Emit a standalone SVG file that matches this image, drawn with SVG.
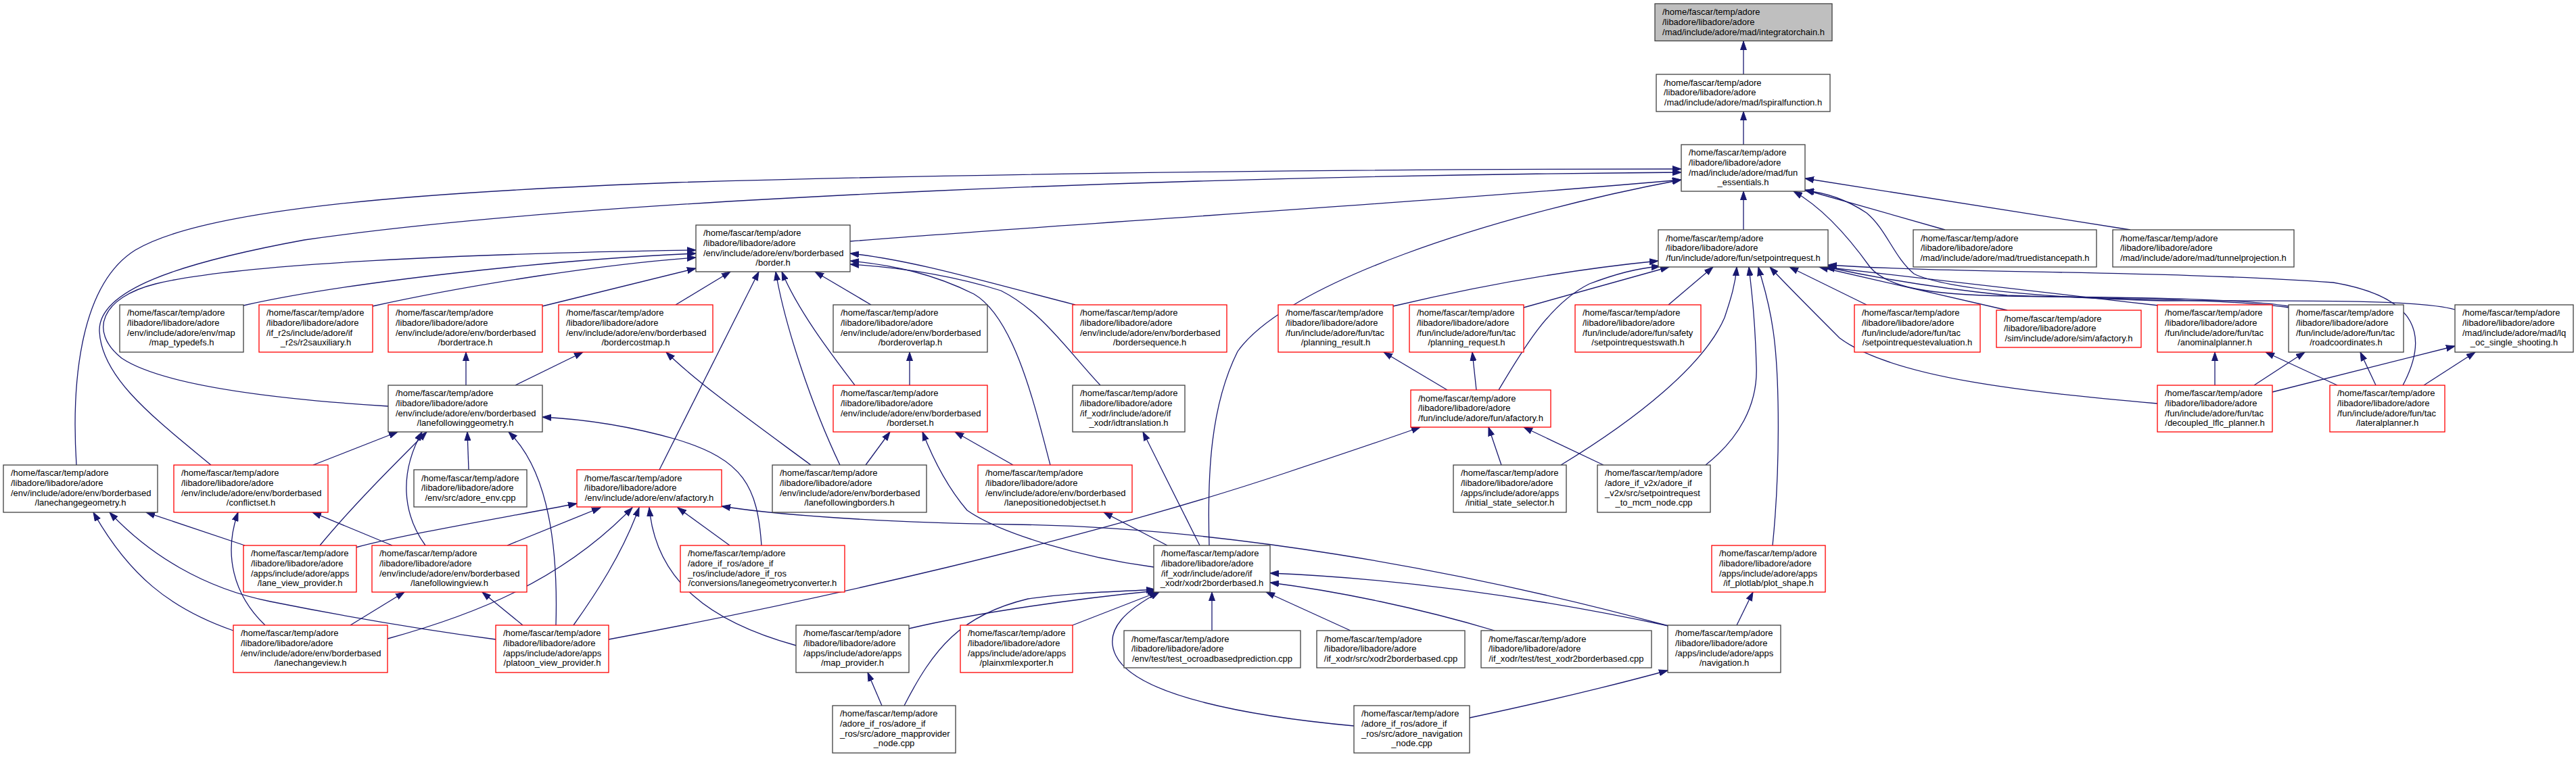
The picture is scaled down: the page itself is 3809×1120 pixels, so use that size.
<svg xmlns="http://www.w3.org/2000/svg" width="3809" height="1120" viewBox="0 0 3809 1120">
<defs>
<marker id="a" markerUnits="userSpaceOnUse" markerWidth="14" markerHeight="10" refX="13" refY="5" orient="auto" viewBox="0 0 14 10"><path d="M0,0.5 L13,5 L0,9.5 z" fill="#191970" stroke="#191970" stroke-width="1"/></marker>
<style>
.k{fill:#fff;stroke:#404040;stroke-width:1.3}
.r{fill:#fff;stroke:#ff0000;stroke-width:1.3}
.g{fill:#bfbfbf;stroke:#404040;stroke-width:1.3}
text{font-family:"Liberation Sans",Arial,sans-serif;font-size:13px;fill:#000}
.m{text-anchor:middle}
#edges path{fill:none;stroke:#191970;stroke-width:1.3;marker-end:url(#a)}
</style>
</defs>
<rect width="3809" height="1120" fill="#fff"/>
<g id="edges">
<path d="M2578,110 L2578,61"/>
<path d="M2578,214 L2578,165"/>
<path d="M2578,340 L2578,283"/>
<path d="M3150,340 L2669,264"/>
<path d="M2876,340 L2669,281"/>
<path d="M1257,357 C1600,330 2100,300 2486,266"/>
<path d="M113,688 C105,560 120,420 200,370 C300,310 600,285 1000,270 C1500,255 2100,250 2486,250"/>
<path d="M312,688 C230,620 150,560 147,490 C145,430 260,390 450,355 C900,290 1800,260 2486,255"/>
<path d="M574,601 C400,590 240,570 180,530 C130,490 150,440 230,420 C350,390 700,375 1029,370"/>
<path d="M360,452 C500,420 800,385 1029,375"/>
<path d="M551,453 C700,420 900,390 1029,381"/>
<path d="M802,453 L1029,397"/>
<path d="M999,451 L1080,402"/>
<path d="M975,695 L1122,402"/>
<path d="M1242,688 C1200,600 1160,480 1147,402"/>
<path d="M1264,570 C1230,525 1180,460 1156,402"/>
<path d="M1288,451 L1205,402"/>
<path d="M1590,451 C1450,415 1350,385 1257,375"/>
<path d="M1553,688 C1530,600 1500,470 1440,435 C1380,405 1320,392 1257,386"/>
<path d="M1627,570 C1580,520 1540,460 1480,430 C1400,405 1320,395 1257,391"/>
<path d="M689,570 L689,521"/>
<path d="M762,570 L862,521"/>
<path d="M1199,688 C1100,615 1030,565 985,521"/>
<path d="M1345,570 L1345,521"/>
<path d="M1280,688 L1316,639"/>
<path d="M1498,688 L1412,639"/>
<path d="M1706,839 C1600,825 1480,790 1430,755 C1400,720 1380,680 1364,639"/>
<path d="M1774,807 L1690,639"/>
<path d="M1726,807 L1632,758"/>
<path d="M1788,807 C1785,700 1790,600 1830,520 C1900,420 2200,320 2486,266"/>
<path d="M2968,459 L2690,395"/>
<path d="M2760,451 L2646,395"/>
<path d="M2467,451 L2533,395"/>
<path d="M2253,455 L2468,395"/>
<path d="M2060,453 C2200,420 2330,398 2452,386"/>
<path d="M2216,577 C2250,520 2290,450 2350,420 C2390,405 2420,397 2455,394"/>
<path d="M2308,688 C2420,620 2520,540 2550,470 C2560,440 2566,420 2568,395"/>
<path d="M2522,688 C2570,650 2600,600 2597,540 C2595,470 2590,430 2586,395"/>
<path d="M2621,807 C2632,700 2632,560 2622,490 C2615,440 2605,415 2600,395"/>
<path d="M3190,597 C3000,580 2800,560 2720,500 C2680,460 2640,420 2617,395"/>
<path d="M3553,570 C3590,500 3580,440 3450,418 C3200,400 2900,405 2703,392"/>
<path d="M3192,452 C3000,430 2800,408 2697,395"/>
<path d="M3384,455 C3300,442 3100,442 2968,437 C2850,425 2760,408 2700,395"/>
<path d="M3384,453 C3300,440 3100,440 2968,438 C2850,436 2790,425 2765,395 C2740,360 2700,310 2652,283"/>
<path d="M3630,458 C3580,443 3400,445 3200,445 C3000,440 2870,425 2830,405 C2800,380 2790,340 2760,315 C2730,295 2700,285 2669,282"/>
<path d="M3275,570 L3275,521"/>
<path d="M3333,570 L3408,521"/>
<path d="M3360,580 L3630,512"/>
<path d="M3456,570 L3350,521"/>
<path d="M3513,570 L3490,521"/>
<path d="M3584,570 L3660,521"/>
<path d="M693,695 L691,639"/>
<path d="M822,925 C825,820 815,700 752,639"/>
<path d="M1126,807 C1120,720 1100,680 1000,650 C930,630 860,620 802,617"/>
<path d="M463,688 L588,639"/>
<path d="M473,807 C520,750 580,690 631,639"/>
<path d="M629,807 C595,760 590,700 624,639"/>
<path d="M392,925 C345,880 330,820 352,758"/>
<path d="M580,807 L462,758"/>
<path d="M345,933 C250,900 190,850 138,758"/>
<path d="M733,946 C650,935 550,920 400,890 C300,870 220,820 162,758"/>
<path d="M362,807 L216,758"/>
<path d="M526,810 C600,790 750,765 853,745"/>
<path d="M750,807 L888,751"/>
<path d="M573,945 C700,910 830,860 935,751"/>
<path d="M848,925 C880,880 920,820 945,751"/>
<path d="M1177,955 C1050,920 970,860 960,751"/>
<path d="M1079,807 L1002,751"/>
<path d="M2467,926 C2150,840 1800,780 1500,776 C1300,773 1150,762 1067,749"/>
<path d="M773,925 L713,876"/>
<path d="M518,925 L598,876"/>
<path d="M900,946 C1200,890 1600,800 1900,700 C1990,670 2050,650 2100,632"/>
<path d="M2140,577 L2046,521"/>
<path d="M2183,577 L2177,521"/>
<path d="M2220,688 L2201,632"/>
<path d="M2371,688 L2253,632"/>
<path d="M2568,925 L2592,876"/>
<path d="M2173,1062 C2300,1035 2400,1010 2466,992"/>
<path d="M1304,1044 L1283,995"/>
<path d="M1337,1044 C1380,960 1420,910 1520,886 C1600,875 1650,876 1708,872"/>
<path d="M1344,930 C1450,905 1600,885 1710,874"/>
<path d="M1586,925 L1712,876"/>
<path d="M2002,1074 C1850,1060 1680,1030 1650,970 C1630,930 1670,900 1714,876"/>
<path d="M1792,933 L1792,876"/>
<path d="M1997,933 L1872,876"/>
<path d="M2210,933 C2100,900 1980,875 1878,862"/>
<path d="M2467,926 C2250,880 2050,855 1878,848"/>
</g>
<g id="n_integratorchain"><rect class="g" x="2447" y="5.5" width="262" height="55"/><text x="2458" y="22">/home/fascar/temp/adore</text><text x="2458" y="36.8">/libadore/libadore/adore</text><text class="m" x="2578" y="51.5">/mad/include/adore/mad/integratorchain.h</text></g>
<g id="n_lspiralfunction"><rect class="k" x="2449" y="110" width="257" height="55"/><text x="2460" y="126.5">/home/fascar/temp/adore</text><text x="2460" y="141.3">/libadore/libadore/adore</text><text class="m" x="2577.5" y="156">/mad/include/adore/mad/lspiralfunction.h</text></g>
<g id="n_fun_essentials"><rect class="k" x="2486" y="214" width="183" height="69"/><text x="2497" y="230">/home/fascar/temp/adore</text><text x="2497" y="245">/libadore/libadore/adore</text><text x="2497" y="259.5">/mad/include/adore/mad/fun</text><text class="m" x="2577.5" y="274">_essentials.h</text></g>
<g id="n_setpointrequest"><rect class="k" x="2452" y="340" width="251" height="55"/><text x="2463" y="356.5">/home/fascar/temp/adore</text><text x="2463" y="371.3">/libadore/libadore/adore</text><text class="m" x="2577.5" y="386">/fun/include/adore/fun/setpointrequest.h</text></g>
<g id="n_truedistancepath"><rect class="k" x="2829" y="340" width="271" height="55"/><text x="2840" y="356.5">/home/fascar/temp/adore</text><text x="2840" y="371.3">/libadore/libadore/adore</text><text class="m" x="2964.5" y="386">/mad/include/adore/mad/truedistancepath.h</text></g>
<g id="n_tunnelprojection"><rect class="k" x="3124" y="340" width="268" height="55"/><text x="3135" y="356.5">/home/fascar/temp/adore</text><text x="3135" y="371.3">/libadore/libadore/adore</text><text class="m" x="3258" y="386">/mad/include/adore/mad/tunnelprojection.h</text></g>
<g id="n_border"><rect class="k" x="1029" y="333" width="228" height="69"/><text x="1040" y="349">/home/fascar/temp/adore</text><text x="1040" y="364">/libadore/libadore/adore</text><text x="1040" y="378.5">/env/include/adore/env/borderbased</text><text class="m" x="1143" y="393">/border.h</text></g>
<g id="n_map_typedefs"><rect class="k" x="177" y="451" width="183" height="70"/><text x="188" y="467">/home/fascar/temp/adore</text><text x="188" y="482">/libadore/libadore/adore</text><text x="188" y="496.5">/env/include/adore/env/map</text><text class="m" x="268.5" y="511">/map_typedefs.h</text></g>
<g id="n_r2sauxiliary"><rect class="r" x="383" y="451" width="168" height="70"/><text x="394" y="467">/home/fascar/temp/adore</text><text x="394" y="482">/libadore/libadore/adore</text><text x="394" y="496.5">/if_r2s/include/adore/if</text><text class="m" x="467" y="511">_r2s/r2sauxiliary.h</text></g>
<g id="n_bordertrace"><rect class="r" x="574" y="451" width="228" height="70"/><text x="585" y="467">/home/fascar/temp/adore</text><text x="585" y="482">/libadore/libadore/adore</text><text x="585" y="496.5">/env/include/adore/env/borderbased</text><text class="m" x="688" y="511">/bordertrace.h</text></g>
<g id="n_bordercostmap"><rect class="r" x="826" y="451" width="228" height="70"/><text x="837" y="467">/home/fascar/temp/adore</text><text x="837" y="482">/libadore/libadore/adore</text><text x="837" y="496.5">/env/include/adore/env/borderbased</text><text class="m" x="940" y="511">/bordercostmap.h</text></g>
<g id="n_borderoverlap"><rect class="k" x="1232" y="451" width="228" height="70"/><text x="1243" y="467">/home/fascar/temp/adore</text><text x="1243" y="482">/libadore/libadore/adore</text><text x="1243" y="496.5">/env/include/adore/env/borderbased</text><text class="m" x="1346" y="511">/borderoverlap.h</text></g>
<g id="n_bordersequence"><rect class="r" x="1586" y="451" width="228" height="70"/><text x="1597" y="467">/home/fascar/temp/adore</text><text x="1597" y="482">/libadore/libadore/adore</text><text x="1597" y="496.5">/env/include/adore/env/borderbased</text><text class="m" x="1700" y="511">/bordersequence.h</text></g>
<g id="n_planning_result"><rect class="r" x="1890" y="451" width="170" height="70"/><text x="1901" y="467">/home/fascar/temp/adore</text><text x="1901" y="482">/libadore/libadore/adore</text><text x="1901" y="496.5">/fun/include/adore/fun/tac</text><text class="m" x="1975" y="511">/planning_result.h</text></g>
<g id="n_planning_request"><rect class="r" x="2084" y="451" width="169" height="70"/><text x="2095" y="467">/home/fascar/temp/adore</text><text x="2095" y="482">/libadore/libadore/adore</text><text x="2095" y="496.5">/fun/include/adore/fun/tac</text><text class="m" x="2168.5" y="511">/planning_request.h</text></g>
<g id="n_setpointrequestswath"><rect class="r" x="2329" y="451" width="186" height="70"/><text x="2340" y="467">/home/fascar/temp/adore</text><text x="2340" y="482">/libadore/libadore/adore</text><text x="2340" y="496.5">/fun/include/adore/fun/safety</text><text class="m" x="2422" y="511">/setpointrequestswath.h</text></g>
<g id="n_setpointrequestevaluation"><rect class="r" x="2742" y="451" width="186" height="70"/><text x="2753" y="467">/home/fascar/temp/adore</text><text x="2753" y="482">/libadore/libadore/adore</text><text x="2753" y="496.5">/fun/include/adore/fun/tac</text><text class="m" x="2835" y="511">/setpointrequestevaluation.h</text></g>
<g id="n_sim_afactory"><rect class="r" x="2952" y="459" width="214" height="55"/><text x="2963" y="475.5">/home/fascar/temp/adore</text><text x="2963" y="490.3">/libadore/libadore/adore</text><text class="m" x="3059" y="505">/sim/include/adore/sim/afactory.h</text></g>
<g id="n_anominalplanner"><rect class="r" x="3190" y="451" width="170" height="70"/><text x="3201" y="467">/home/fascar/temp/adore</text><text x="3201" y="482">/libadore/libadore/adore</text><text x="3201" y="496.5">/fun/include/adore/fun/tac</text><text class="m" x="3275" y="511">/anominalplanner.h</text></g>
<g id="n_roadcoordinates"><rect class="k" x="3384" y="451" width="170" height="70"/><text x="3395" y="467">/home/fascar/temp/adore</text><text x="3395" y="482">/libadore/libadore/adore</text><text x="3395" y="496.5">/fun/include/adore/fun/tac</text><text class="m" x="3469" y="511">/roadcoordinates.h</text></g>
<g id="n_lq_oc"><rect class="k" x="3630" y="451" width="175" height="70"/><text x="3641" y="467">/home/fascar/temp/adore</text><text x="3641" y="482">/libadore/libadore/adore</text><text x="3641" y="496.5">/mad/include/adore/mad/lq</text><text class="m" x="3717.5" y="511">_oc_single_shooting.h</text></g>
<g id="n_lanefollowinggeometry"><rect class="k" x="574" y="570" width="228" height="69"/><text x="585" y="586">/home/fascar/temp/adore</text><text x="585" y="601">/libadore/libadore/adore</text><text x="585" y="615.5">/env/include/adore/env/borderbased</text><text class="m" x="688" y="630">/lanefollowinggeometry.h</text></g>
<g id="n_borderset"><rect class="r" x="1232" y="570" width="228" height="69"/><text x="1243" y="586">/home/fascar/temp/adore</text><text x="1243" y="601">/libadore/libadore/adore</text><text x="1243" y="615.5">/env/include/adore/env/borderbased</text><text class="m" x="1346" y="630">/borderset.h</text></g>
<g id="n_idtranslation"><rect class="k" x="1586" y="570" width="166" height="69"/><text x="1597" y="586">/home/fascar/temp/adore</text><text x="1597" y="601">/libadore/libadore/adore</text><text x="1597" y="615.5">/if_xodr/include/adore/if</text><text class="m" x="1669" y="630">_xodr/idtranslation.h</text></g>
<g id="n_fun_afactory"><rect class="r" x="2086" y="577" width="207" height="55"/><text x="2097" y="593.5">/home/fascar/temp/adore</text><text x="2097" y="608.3">/libadore/libadore/adore</text><text class="m" x="2189.5" y="623">/fun/include/adore/fun/afactory.h</text></g>
<g id="n_decoupled_lflc_planner"><rect class="r" x="3190" y="570" width="170" height="69"/><text x="3201" y="586">/home/fascar/temp/adore</text><text x="3201" y="601">/libadore/libadore/adore</text><text x="3201" y="615.5">/fun/include/adore/fun/tac</text><text class="m" x="3275" y="630">/decoupled_lflc_planner.h</text></g>
<g id="n_lateralplanner"><rect class="r" x="3445" y="570" width="170" height="69"/><text x="3456" y="586">/home/fascar/temp/adore</text><text x="3456" y="601">/libadore/libadore/adore</text><text x="3456" y="615.5">/fun/include/adore/fun/tac</text><text class="m" x="3530" y="630">/lateralplanner.h</text></g>
<g id="n_lanechangegeometry"><rect class="k" x="5" y="688" width="228" height="70"/><text x="16" y="704">/home/fascar/temp/adore</text><text x="16" y="719">/libadore/libadore/adore</text><text x="16" y="733.5">/env/include/adore/env/borderbased</text><text class="m" x="119" y="748">/lanechangegeometry.h</text></g>
<g id="n_conflictset"><rect class="r" x="257" y="688" width="228" height="70"/><text x="268" y="704">/home/fascar/temp/adore</text><text x="268" y="719">/libadore/libadore/adore</text><text x="268" y="733.5">/env/include/adore/env/borderbased</text><text class="m" x="371" y="748">/conflictset.h</text></g>
<g id="n_adore_env_cpp"><rect class="k" x="612" y="695" width="167" height="55"/><text x="623" y="711.5">/home/fascar/temp/adore</text><text x="623" y="726.3">/libadore/libadore/adore</text><text class="m" x="695.5" y="741">/env/src/adore_env.cpp</text></g>
<g id="n_env_afactory"><rect class="r" x="853" y="695" width="214" height="55"/><text x="864" y="711.5">/home/fascar/temp/adore</text><text x="864" y="726.3">/libadore/libadore/adore</text><text class="m" x="960" y="741">/env/include/adore/env/afactory.h</text></g>
<g id="n_lanefollowingborders"><rect class="k" x="1142" y="688" width="228" height="70"/><text x="1153" y="704">/home/fascar/temp/adore</text><text x="1153" y="719">/libadore/libadore/adore</text><text x="1153" y="733.5">/env/include/adore/env/borderbased</text><text class="m" x="1256" y="748">/lanefollowingborders.h</text></g>
<g id="n_lanepositionedobjectset"><rect class="r" x="1446" y="688" width="228" height="70"/><text x="1457" y="704">/home/fascar/temp/adore</text><text x="1457" y="719">/libadore/libadore/adore</text><text x="1457" y="733.5">/env/include/adore/env/borderbased</text><text class="m" x="1560" y="748">/lanepositionedobjectset.h</text></g>
<g id="n_initial_state_selector"><rect class="k" x="2149" y="688" width="167" height="70"/><text x="2160" y="704">/home/fascar/temp/adore</text><text x="2160" y="719">/libadore/libadore/adore</text><text x="2160" y="733.5">/apps/include/adore/apps</text><text class="m" x="2232.5" y="748">/initial_state_selector.h</text></g>
<g id="n_setpointrequest_to_mcm"><rect class="k" x="2362" y="688" width="167" height="70"/><text x="2373" y="704">/home/fascar/temp/adore</text><text x="2373" y="719">/adore_if_v2x/adore_if</text><text x="2373" y="733.5">_v2x/src/setpointrequest</text><text class="m" x="2445.5" y="748">_to_mcm_node.cpp</text></g>
<g id="n_lane_view_provider"><rect class="r" x="360" y="807" width="167" height="69"/><text x="371" y="823">/home/fascar/temp/adore</text><text x="371" y="838">/libadore/libadore/adore</text><text x="371" y="852.5">/apps/include/adore/apps</text><text class="m" x="443.5" y="867">/lane_view_provider.h</text></g>
<g id="n_lanefollowingview"><rect class="r" x="550" y="807" width="229" height="69"/><text x="561" y="823">/home/fascar/temp/adore</text><text x="561" y="838">/libadore/libadore/adore</text><text x="561" y="852.5">/env/include/adore/env/borderbased</text><text class="m" x="664.5" y="867">/lanefollowingview.h</text></g>
<g id="n_lanegeometryconverter"><rect class="r" x="1006" y="807" width="243" height="69"/><text x="1017" y="823">/home/fascar/temp/adore</text><text x="1017" y="838">/adore_if_ros/adore_if</text><text x="1017" y="852.5">_ros/include/adore_if_ros</text><text class="m" x="1127.5" y="867">/conversions/lanegeometryconverter.h</text></g>
<g id="n_xodr2borderbased"><rect class="k" x="1706" y="807" width="172" height="69"/><text x="1717" y="823">/home/fascar/temp/adore</text><text x="1717" y="838">/libadore/libadore/adore</text><text x="1717" y="852.5">/if_xodr/include/adore/if</text><text class="m" x="1792" y="867">_xodr/xodr2borderbased.h</text></g>
<g id="n_plot_shape"><rect class="r" x="2531" y="807" width="168" height="69"/><text x="2542" y="823">/home/fascar/temp/adore</text><text x="2542" y="838">/libadore/libadore/adore</text><text x="2542" y="852.5">/apps/include/adore/apps</text><text class="m" x="2615" y="867">/if_plotlab/plot_shape.h</text></g>
<g id="n_lanechangeview"><rect class="r" x="345" y="925" width="228" height="70"/><text x="356" y="941">/home/fascar/temp/adore</text><text x="356" y="956">/libadore/libadore/adore</text><text x="356" y="970.5">/env/include/adore/env/borderbased</text><text class="m" x="459" y="985">/lanechangeview.h</text></g>
<g id="n_platoon_view_provider"><rect class="r" x="733" y="925" width="167" height="70"/><text x="744" y="941">/home/fascar/temp/adore</text><text x="744" y="956">/libadore/libadore/adore</text><text x="744" y="970.5">/apps/include/adore/apps</text><text class="m" x="816.5" y="985">/platoon_view_provider.h</text></g>
<g id="n_map_provider"><rect class="k" x="1177" y="925" width="167" height="70"/><text x="1188" y="941">/home/fascar/temp/adore</text><text x="1188" y="956">/libadore/libadore/adore</text><text x="1188" y="970.5">/apps/include/adore/apps</text><text class="m" x="1260.5" y="985">/map_provider.h</text></g>
<g id="n_plainxmlexporter"><rect class="r" x="1420" y="925" width="166" height="70"/><text x="1431" y="941">/home/fascar/temp/adore</text><text x="1431" y="956">/libadore/libadore/adore</text><text x="1431" y="970.5">/apps/include/adore/apps</text><text class="m" x="1503" y="985">/plainxmlexporter.h</text></g>
<g id="n_test_ocroadbasedprediction"><rect class="k" x="1662" y="933" width="261" height="55"/><text x="1673" y="949.5">/home/fascar/temp/adore</text><text x="1673" y="964.3">/libadore/libadore/adore</text><text class="m" x="1792.5" y="979">/env/test/test_ocroadbasedprediction.cpp</text></g>
<g id="n_xodr2borderbased_cpp"><rect class="k" x="1947" y="933" width="219" height="55"/><text x="1958" y="949.5">/home/fascar/temp/adore</text><text x="1958" y="964.3">/libadore/libadore/adore</text><text class="m" x="2056.5" y="979">/if_xodr/src/xodr2borderbased.cpp</text></g>
<g id="n_test_xodr2borderbased"><rect class="k" x="2190" y="933" width="252" height="55"/><text x="2201" y="949.5">/home/fascar/temp/adore</text><text x="2201" y="964.3">/libadore/libadore/adore</text><text class="m" x="2316" y="979">/if_xodr/test/test_xodr2borderbased.cpp</text></g>
<g id="n_navigation"><rect class="k" x="2466" y="925" width="167" height="70"/><text x="2477" y="941">/home/fascar/temp/adore</text><text x="2477" y="956">/libadore/libadore/adore</text><text x="2477" y="970.5">/apps/include/adore/apps</text><text class="m" x="2549.5" y="985">/navigation.h</text></g>
<g id="n_adore_mapprovider_node"><rect class="k" x="1231" y="1044" width="182" height="70"/><text x="1242" y="1060">/home/fascar/temp/adore</text><text x="1242" y="1075">/adore_if_ros/adore_if</text><text x="1242" y="1089.5">_ros/src/adore_mapprovider</text><text class="m" x="1322" y="1104">_node.cpp</text></g>
<g id="n_adore_navigation_node"><rect class="k" x="2002" y="1044" width="171" height="70"/><text x="2013" y="1060">/home/fascar/temp/adore</text><text x="2013" y="1075">/adore_if_ros/adore_if</text><text x="2013" y="1089.5">_ros/src/adore_navigation</text><text class="m" x="2087.5" y="1104">_node.cpp</text></g>
</svg>
